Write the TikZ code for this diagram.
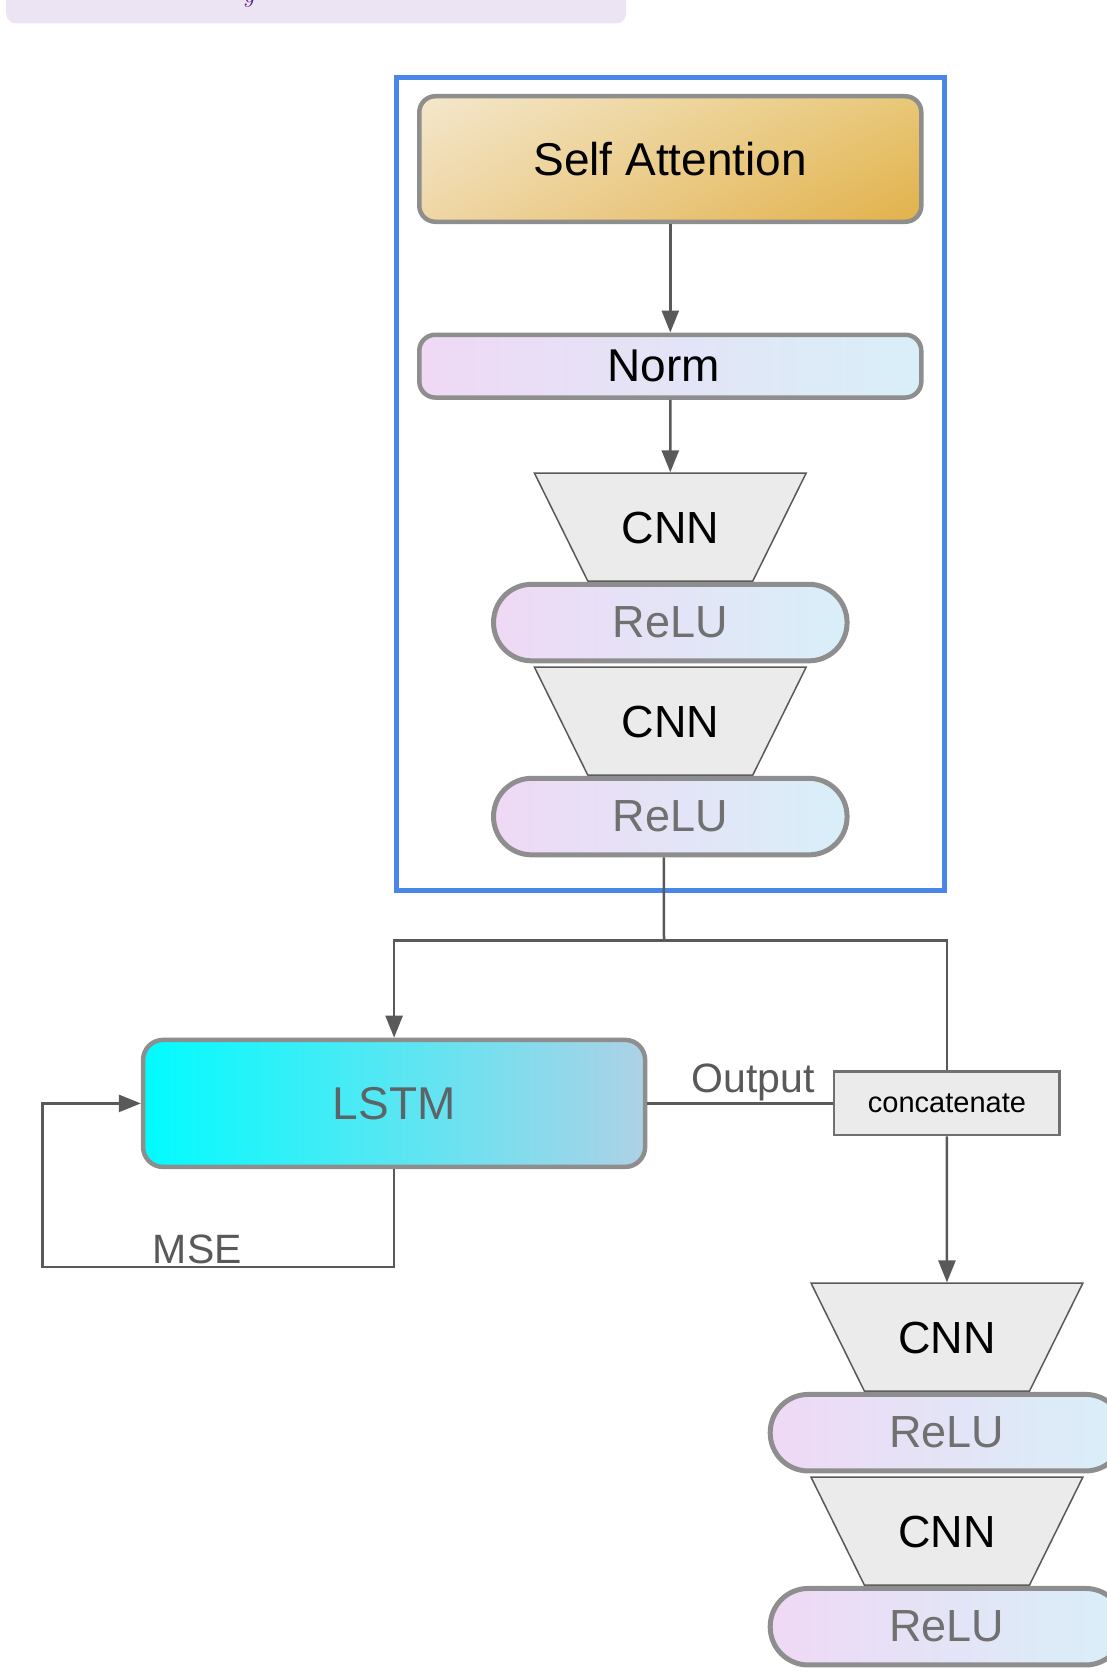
\documentclass[tikz,border=0pt]{standalone}
\usepackage{fontspec}
\setmainfont{Liberation Sans}
\usepackage{xcolor}
\usetikzlibrary{positioning,arrows.meta,fit,shapes.geometric,shadings}

\definecolor{edgegray}{HTML}{8E8E8E}
\definecolor{linegray}{HTML}{595959}
\definecolor{frameblue}{HTML}{4A86E8}
\definecolor{softpink}{HTML}{EFD9F5}
\definecolor{softcyan}{HTML}{D8EFF8}
\definecolor{convgray}{HTML}{EBEBEB}
\definecolor{relugray}{HTML}{707070}
\definecolor{lstmcyan}{HTML}{00FCFF}
\definecolor{lstmblue}{HTML}{AED1E6}
\definecolor{lstmtext}{HTML}{5C6468}
\definecolor{capfill}{HTML}{EDE4F3}
\definecolor{capviolet}{HTML}{5A1E8C}
\definecolor{sandlight}{HTML}{F4E7CC}
\definecolor{sandupper}{HTML}{E8C777}
\definecolor{sandlower}{HTML}{EFD6A5}
\definecolor{sanddark}{HTML}{E2B14A}

\begin{document}
\begin{tikzpicture}[
    x=1pt, y=-1pt,
    node distance=10pt,
    block/.style={rectangle, draw=edgegray, line width=4.5pt, rounded corners=16pt, align=center, inner sep=0pt},
    soft/.style={block, left color=softpink, right color=softcyan},
    pill/.style={soft, line width=5pt, rounded corners=38pt, minimum width=353.5pt, minimum height=76.5pt, text=relugray, font=\fontsize{45}{54}\selectfont},
    conv/.style={trapezium, trapezium stretches=false, trapezium left angle=63.7, trapezium right angle=63.7, shape border rotate=180, draw=linegray, line width=1.5pt, fill=convgray, minimum width=1pt, minimum height=1pt, inner sep=0pt, text width=165pt, align=center, text height=70.1pt, text depth=37.9pt, font=\fontsize{45}{54}\selectfont},
    frame/.style={rectangle, draw=frameblue, line width=5pt},
    wire/.style={draw=linegray, line width=2.5pt},
    lbl/.style={inner sep=0pt, text=linegray, font=\fontsize{41}{49}\selectfont},
    >={Triangle[length=22pt,width=17pt]}
]
\useasboundingbox (0,0) rectangle (1106,1672);

% Caption strip (cut off at the top)
\node[rectangle, rounded corners=10pt, fill=capfill, minimum width=620pt, minimum height=60pt, inner sep=0pt] (caption) at (316.2,-6.5) {};
\node[anchor=base, inner sep=0pt, text=capviolet, font=\fontsize{46}{54}\selectfont] (capglyph) at (250,3) {$y$};

% Attention block
\node[block, upper left=sandlight, upper right=sandupper, lower left=sandlower, lower right=sanddark, minimum width=502pt, minimum height=125.5pt, font=\fontsize{46}{55}\selectfont] (sa) at (670.3,159) {Self Attention};
\node[soft, below=108.5pt of sa, minimum width=502pt, minimum height=62.8pt, font=\fontsize{46}{55}\selectfont] (norm) {Norm\hspace{13pt}};
\node[conv, below=72.5pt of norm] (cnn1) {CNN};
\node[pill, below=0pt of cnn1] (relu1) {ReLU};
\node[conv, below=3pt of relu1] (cnn2) {CNN};
\node[pill, below=0pt of cnn2] (relu2) {ReLU};
\coordinate (framebot) at ([yshift=-16pt]relu2.south);
\node[frame, fit=(sa)(relu2)(framebot), inner xsep=21pt, inner ysep=16.7pt] (attframe) {};

% LSTM and concatenation
\node[block, rounded corners=20pt, left color=lstmcyan, right color=lstmblue, minimum width=502pt, minimum height=127pt, text=lstmtext, font=\fontsize{46}{55}\selectfont] (lstm) at (394.1,1103.4) {LSTM};
\node[rectangle, draw=relugray, line width=2.5pt, fill=convgray, right=185.6pt of lstm, minimum width=225.5pt, minimum height=63.5pt, inner sep=0pt, font=\fontsize{29}{35}\selectfont] (concat) {concatenate};

% Second conv stack
\node[conv, below=146pt of concat] (cnn3) {CNN};
\node[pill, below=0pt of cnn3] (relu3) {ReLU};
\node[conv, below=3pt of relu3] (cnn4) {CNN};
\node[pill, below=0pt of cnn4] (relu4) {ReLU};

\coordinate (split) at (664,940.6);
\coordinate (loopcorner) at (42.7,1267);

\draw[wire,->] (sa) -- (norm);
\draw[wire,->] (norm) -- (cnn1);
\draw[wire] ([xshift=-6.5pt]relu2.south) -- (split);
\draw[wire,->] (split) -| (lstm.north);
\draw[wire] (split) -| (concat.north);
\draw[wire] (lstm) -- node[lbl, pos=0.57, above=1pt] {Output} (concat);
\draw[wire,->] (concat) -- (cnn3);
\draw[wire,->] (lstm.south) |- node[lbl, pos=0.78, above=2pt] {MSE} (loopcorner) |- (lstm.west);

\end{tikzpicture}
\end{document}
